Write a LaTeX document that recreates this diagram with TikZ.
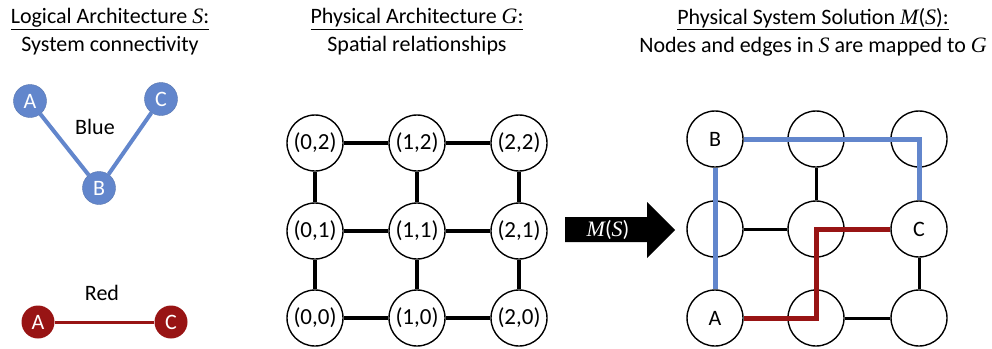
\documentclass[tikz,border=0pt]{standalone}
\usepackage{fontspec}
\setmainfont{Carlito}
\newfontfamily\symfont{Liberation Serif}
\newcommand{\sym}[1]{{\symfont\itshape #1}}
\usetikzlibrary{positioning}
\definecolor{logicblue}{RGB}{98,134,204}
\definecolor{logicred}{RGB}{152,20,20}
\tikzset{
  cell/.style={circle, draw, line width=1.4pt, fill=white, minimum size=56pt, inner sep=0pt, font=\fontsize{23}{28}\selectfont},
  lnode/.style={circle, minimum size=33pt, inner sep=0pt, text=white},
  link/.style={line width=3.5pt},
  maplink/.style={line width=3pt},
  route/.style={line width=5pt, line join=miter},
}

\begin{document}
\begin{tikzpicture}[x=1pt, y=-1pt, font=\fontsize{22}{28}\selectfont]
  \useasboundingbox (0,0) rectangle (992,348);
  % Panel titles.
  \node[align=center] (titleS) at (110,32) {\underline{Logical Architecture \sym{S}:}\\System connectivity};
  \node[align=center] (titleG) at (417,32) {\underline{Physical Architecture \sym{G}:}\\Spatial relationships};
  \node[align=center] (titleM) at (813,32) {\underline{Physical System Solution \sym{M}(\sym{S}):}\\Nodes and edges in \sym{S} are mapped to \sym{G}};
  % Logical nets: blue A-B-C and red A-C.
  \node[lnode, fill=logicblue, draw=logicblue!85!black] (bA) at (30,101) {A};
  \node[lnode, fill=logicblue, draw=logicblue!85!black] (bC) at (161,99) {C};
  \node[lnode, fill=logicblue, draw=logicblue!85!black] (bB) at (99,188) {B};
  \draw[logicblue, line width=4pt] (bA) -- (bB);
  \draw[logicblue, line width=4pt] (bB) -- (bC);
  \node (blueLbl) at (95,127) {Blue};
  \node[lnode, fill=logicred] (rA) at (38,322) {A};
  \node[lnode, fill=logicred] (rC) at (171,322) {C};
  \draw[logicred, line width=3pt] (rA) -- (rC);
  \node (redLbl) at (102,293) {Red};
  % Physical grid G.
  \foreach \i/\x in {0/315,1/417,2/519}
    \foreach \j/\y in {0/318,1/231,2/143}
      \node[cell] (g\i\j) at (\x,\y) {(\i,\j)};
  \foreach \i in {0,1,2} {
    \draw[link] (g\i0) -- (g\i1);
    \draw[link] (g\i1) -- (g\i2);
  }
  \foreach \j in {0,1,2} {
    \draw[link] (g0\j) -- (g1\j);
    \draw[link] (g1\j) -- (g2\j);
  }
  % Mapping arrow.
  \fill (565,217) -- (647,217) -- (647,202) -- (675,230) -- (647,258) -- (647,242) -- (565,242) -- cycle;
  \node[text=white] (mapLbl) at (608,230) {\sym{M}(\sym{S})};
  % Mapped solution M(S).
  \foreach \i/\x in {0/715,1/816,2/919}
    \foreach \j/\y in {0/318,1/229,2/139}
      \node[cell] (m\i\j) at (\x,\y) {};
  \node at (m00) {A};
  \node at (m02) {B};
  \node at (m21) {C};
  \draw[maplink] (m12) -- (m11);
  \draw[maplink] (m01) -- (m11);
  \draw[maplink] (m21) -- (m20);
  \draw[maplink] (m10) -- (m20);
  \draw[route, logicblue] (m02.east) -- (m22.center) -- (m21.north);
  \draw[route, logicblue] (m02.south) -- (m00.north);
  \draw[route, logicred] (m00.east) -- (m10.center) -- (m11.center) -- (m21.west);
\end{tikzpicture}
\end{document}
